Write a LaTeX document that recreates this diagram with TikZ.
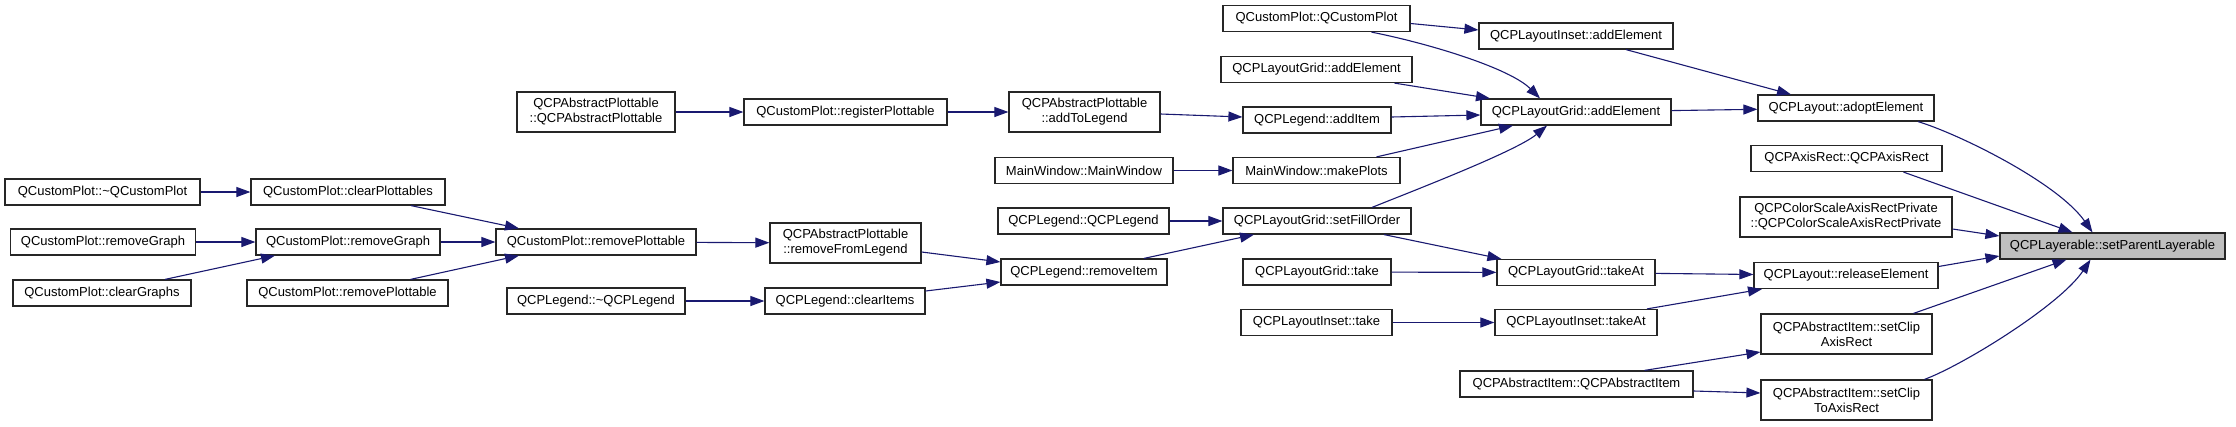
\documentclass[tikz,border=0pt]{standalone}
\usepackage{fontspec}
\setmainfont{Liberation Sans}
\usepackage{tikz}
\usetikzlibrary{arrows.meta}
\definecolor{edgeblue}{HTML}{191970}
\definecolor{curgray}{HTML}{BFBFBF}

\begin{document}
\begin{tikzpicture}[x=1pt, y=-1pt,
    fn/.style={draw=black!85, line width=1.2pt, fill=white, inner sep=0pt,
      minimum height=26pt, align=center, font=\fontsize{13}{15}\selectfont},
    call/.style={draw=edgeblue, line width=1.1pt, -{Triangle[length=14pt,width=10pt]}}]

    \useasboundingbox (0,0) rectangle (2236,426);

    % Draw the callers, column by column
    \node[fn, minimum width=195pt] (cpDtor) at (102.5,192) {QCustomPlot::\textasciitilde QCustomPlot};
    \node[fn, minimum width=185pt] (removeGraphA) at (103,242) {QCustomPlot::removeGraph};
    \node[fn, minimum width=178pt] (clearGraphs) at (102,293) {QCustomPlot::clearGraphs};

    \node[fn, minimum width=194pt] (clearPlottables) at (348,192) {QCustomPlot::clearPlottables};
    \node[fn, minimum width=184pt] (removeGraphB) at (348,242) {QCustomPlot::removeGraph};
    \node[fn, minimum width=201pt] (removePlottableB) at (347.5,293) {QCustomPlot::removePlottable};

    \node[fn, minimum width=158pt, minimum height=40pt] (apCtor) at (596,112) {QCPAbstractPlottable\\::QCPAbstractPlottable};
    \node[fn, minimum width=200pt] (removePlottable) at (596,242) {QCustomPlot::removePlottable};
    \node[fn, minimum width=178pt] (legendDtor) at (596,301) {QCPLegend::\textasciitilde QCPLegend};

    \node[fn, minimum width=203pt] (registerPlottable) at (845.5,112) {QCustomPlot::registerPlottable};
    \node[fn, minimum width=151pt, minimum height=40pt] (removeFromLegend) at (845.5,243) {QCPAbstractPlottable\\::removeFromLegend};
    \node[fn, minimum width=160pt] (clearItems) at (845,301) {QCPLegend::clearItems};

    \node[fn, minimum width=151pt, minimum height=40pt] (addToLegend) at (1084.5,112) {QCPAbstractPlottable\\::addToLegend};
    \node[fn, minimum width=178pt] (mwCtor) at (1084,170.5) {MainWindow::MainWindow};
    \node[fn, minimum width=171pt] (legendCtor) at (1083.5,221) {QCPLegend::QCPLegend};
    \node[fn, minimum width=166pt] (removeItem) at (1084,272) {QCPLegend::removeItem};

    \node[fn, minimum width=187pt] (cpCtor) at (1316.5,18.5) {QCustomPlot::QCustomPlot};
    \node[fn, minimum width=191pt] (gridAddA) at (1316.5,69.5) {QCPLayoutGrid::addElement};
    \node[fn, minimum width=148pt] (addItem) at (1317,120) {QCPLegend::addItem};
    \node[fn, minimum width=167pt] (makePlots) at (1316.5,170.5) {MainWindow::makePlots};
    \node[fn, minimum width=188pt] (setFillOrder) at (1317,221) {QCPLayoutGrid::setFillOrder};
    \node[fn, minimum width=148pt] (gridTake) at (1317,272) {QCPLayoutGrid::take};
    \node[fn, minimum width=151pt] (insetTake) at (1316.5,322.5) {QCPLayoutInset::take};

    \node[fn, minimum width=194pt] (insetAdd) at (1576,36) {QCPLayoutInset::addElement};
    \node[fn, minimum width=190pt] (gridAdd) at (1576,112) {QCPLayoutGrid::addElement};
    \node[fn, minimum width=158pt] (gridTakeAt) at (1576,272.5) {QCPLayoutGrid::takeAt};
    \node[fn, minimum width=162pt] (insetTakeAt) at (1576,322.5) {QCPLayoutInset::takeAt};
    \node[fn, minimum width=233pt] (itemCtor) at (1576.5,384) {QCPAbstractItem::QCPAbstractItem};

    \node[fn, minimum width=176pt] (adoptElement) at (1846,108) {QCPLayout::adoptElement};
    \node[fn, minimum width=191pt] (axisRectCtor) at (1846.5,158.5) {QCPAxisRect::QCPAxisRect};
    \node[fn, minimum width=212pt, minimum height=40pt] (colorScale) at (1846,217) {QCPColorScaleAxisRectPrivate\\::QCPColorScaleAxisRectPrivate};
    \node[fn, minimum width=184pt] (releaseElement) at (1846,275.5) {QCPLayout::releaseElement};
    \node[fn, minimum width=171pt, minimum height=40pt] (setClipAxisRect) at (1846.5,334) {QCPAbstractItem::setClip\\AxisRect};
    \node[fn, minimum width=171pt, minimum height=40pt] (setClipToAxisRect) at (1846.5,400) {QCPAbstractItem::setClip\\ToAxisRect};

    % The function itself
    \node[fn, fill=curgray, minimum width=225pt] (setParent) at (2112.5,246) {QCPLayerable::setParentLayerable};

    % Draw the calls
    \draw[call] (cpDtor) -- (clearPlottables);
    \draw[call] ([xshift=63pt]clearPlottables.south) -- ([xshift=-77pt]removePlottable.north);
    \draw[call] (removeGraphA) -- (removeGraphB);
    \draw[call] ([xshift=63pt]clearGraphs.north) -- ([xshift=-73pt]removeGraphB.south);
    \draw[call] (removeGraphB) -- (removePlottable);
    \draw[call] ([xshift=63pt]removePlottableB.north) -- ([xshift=-77pt]removePlottable.south);
    \draw[call] (removePlottable) -- (removeFromLegend);
    \draw[call] (legendDtor) -- (clearItems);
    \draw[call] (apCtor) -- (registerPlottable);
    \draw[call] (registerPlottable) -- (addToLegend);
    \draw[call] ([yshift=-2pt]addToLegend.east) -- ([yshift=3pt]addItem.west);
    \draw[call] ([yshift=-9pt]removeFromLegend.east) -- ([yshift=10pt]removeItem.west);
    \draw[call] ([yshift=10pt]clearItems.east) -- ([yshift=-10pt]removeItem.west);
    \draw[call] (mwCtor) -- (makePlots);
    \draw[call] (legendCtor) -- (setFillOrder);
    \draw[call] ([xshift=60pt]removeItem.north) -- ([xshift=-63pt]setFillOrder.south);

    \draw[call] ([yshift=-5pt]cpCtor.east) -- ([yshift=6pt]insetAdd.west);
    \draw[call] ([xshift=55pt]cpCtor.south) .. controls +(60,12) and +(-30,-30) .. ([xshift=-36pt]gridAdd.north);
    \draw[call] ([xshift=78pt]gridAddA.south) -- ([xshift=-86pt]gridAdd.north);
    \draw[call] ([yshift=3pt]addItem.east) -- ([yshift=-3pt]gridAdd.west);
    \draw[call] ([xshift=60pt]makePlots.north) -- ([xshift=-63pt]gridAdd.south);
    \draw[call] ([xshift=55pt]setFillOrder.north) .. controls +(50,-20) and +(-30,25) .. ([xshift=-29pt]gridAdd.south);
    \draw[call] ([xshift=67pt]setFillOrder.south) -- ([xshift=5pt]gridTakeAt.north west);
    \draw[call] (gridTake) -- (gridTakeAt);
    \draw[call] (insetTake) -- (insetTakeAt);

    \draw[call] ([xshift=50pt]insetAdd.south) -- ([xshift=-55pt]adoptElement.north);
    \draw[call] (gridAdd) -- (adoptElement);
    \draw[call] (gridTakeAt) -- (releaseElement);
    \draw[call] ([xshift=71pt]insetTakeAt.north) -- ([xshift=-84pt]releaseElement.south);
    \draw[call] ([xshift=68pt]itemCtor.north) -- ([yshift=-18pt]setClipAxisRect.west);
    \draw[call] ([yshift=-7pt]itemCtor.east) -- ([yshift=7pt]setClipToAxisRect.west);

    \draw[call] ([xshift=72pt]adoptElement.south) .. controls +(40,12) and +(-35,-50) .. ([xshift=-20pt]setParent.north);
    \draw[call] ([xshift=57pt]axisRectCtor.south) -- ([xshift=-40pt]setParent.north);
    \draw[call] ([yshift=-12pt]colorScale.east) -- ([yshift=10pt]setParent.west);
    \draw[call] ([yshift=9pt]releaseElement.east) -- ([yshift=-10pt]setParent.west);
    \draw[call] ([xshift=67pt]setClipAxisRect.north) -- ([xshift=-46pt]setParent.south);
    \draw[call] ([xshift=78pt]setClipToAxisRect.north) .. controls +(40,-15) and +(-30,45) .. ([xshift=-22pt]setParent.south);
\end{tikzpicture}
\end{document}
